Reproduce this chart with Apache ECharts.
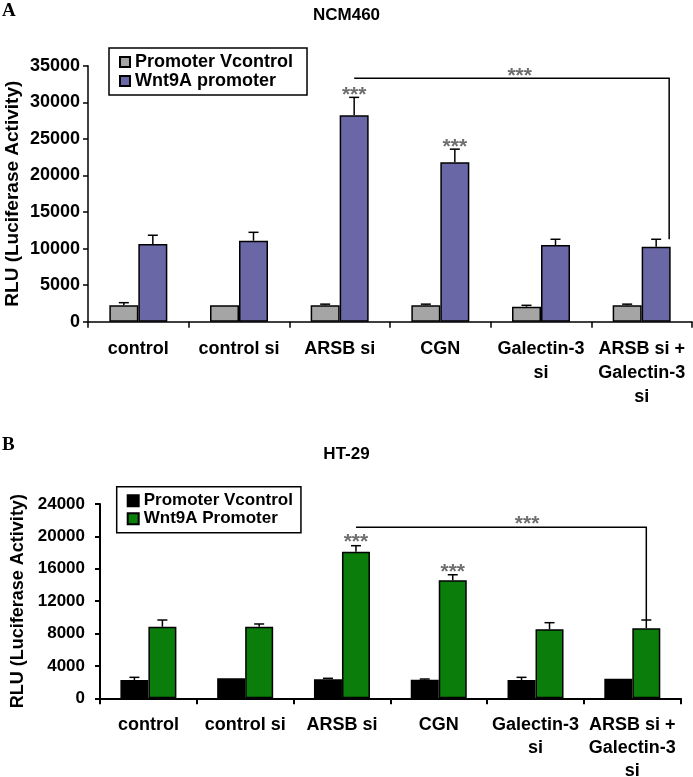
<!DOCTYPE html>
<html><head><meta charset="utf-8">
<script src="https://cdn.jsdelivr.net/npm/echarts@6/dist/echarts.min.js"></script>
<style>
html,body{margin:0;padding:0;background:#fff;width:693px;height:777px;overflow:hidden}
#a{position:absolute;left:0;top:0;width:693px;height:410px}
#b{position:absolute;left:0;top:410px;width:693px;height:367px}
</style>
</head><body><div id="a"></div><div id="b"></div>
<script>
// ---------- data ----------
const categories = ['control', 'control si', 'ARSB si', 'CGN', 'Galectin-3\nsi', 'ARSB si +\nGalectin-3\nsi'];

// Panel A : NCM460
const titleA = 'NCM460';
const seriesNamesA = ['Promoter Vcontrol', 'Wnt9A promoter'];
const vcontrolA = [2250, 2250, 2250, 2250, 2050, 2250];
const vcontrolErrA = [350, 0, 150, 150, 190, 150];
const wntA = [10620, 11070, 28220, 21790, 10490, 10250];
const wntErrA = [1200, 1150, 2450, 1800, 780, 1020];
const sigA = ['', '', '***', '***', '', ''];
const bracketA = [2, 5, 33300];      // from category, to category, level
const bracketLabelA = '***';
const yMinA = 0, yMaxA = 35000, yStepA = 5000;

// Panel B : HT-29
const titleB = 'HT-29';
const seriesNamesB = ['Promoter Vcontrol', 'Wnt9A Promoter'];
const vcontrolB = [2260, 2470, 2350, 2300, 2260, 2420];
const vcontrolErrB = [330, 0, 120, 80, 330, 0];
const wntB = [8840, 8840, 18110, 14570, 8520, 8650];
const wntErrB = [830, 340, 740, 690, 820, 1020];
const sigB = ['', '', '***', '***', '', ''];
const bracketB = [2, 5, 21120];
const bracketLabelB = '***';
const yMinB = 0, yMaxB = 24000, yStepB = 4000;

const yAxisName = 'RLU (Luciferase Activity)';

// ---------- rendering ----------
const FONT = '"Liberation Sans", Arial, sans-serif';

function errSeries(vals, errs, sig, side, L) {
  return {
    type: 'custom', z: 5, clip: false,
    data: vals.map((v, i) => [i, v, errs[i]]),
    encode: { x: 0, y: 1 },
    renderItem: function (params, api) {
      const i = api.value(0), m = api.value(1), e = api.value(2);
      const base = api.coord([i, m]);
      const x = base[0] + side * L.barW / 2;
      const top = api.coord([i, m + e])[1];
      const ch = [];
      if (e > 0) {
        ch.push({ type: 'line', shape: { x1: x, y1: base[1], x2: x, y2: top }, style: { stroke: '#000', lineWidth: 1.5 } });
        ch.push({ type: 'line', shape: { x1: x - L.cap / 2, y1: top, x2: x + L.cap / 2, y2: top }, style: { stroke: '#000', lineWidth: 1.5 } });
      }
      const s = sig[params.dataIndex];
      if (s) {
        ch.push({ type: 'text', style: { text: s, x: x, y: top - L.starGap, align: 'center', verticalAlign: 'middle',
          fill: '#6e6e6e', font: 'bold ' + L.starSize + 'px ' + FONT } });
      }
      return { type: 'group', children: ch };
    }
  };
}

function bracketSeries(br, label, wnt, wntErr, L) {
  return {
    type: 'custom', z: 5, clip: false,
    data: [[br[0], br[1], br[2], wnt[br[1]] + wntErr[br[1]]]],
    encode: { x: [0, 1], y: [2, 3] },
    renderItem: function (params, api) {
      const from = api.value(0), to = api.value(1), lvl = api.value(2), bottom = api.value(3);
      const p1 = api.coord([from, lvl]); p1[0] += L.barW / 2;
      const p2 = api.coord([to, lvl]); p2[0] += L.barW / 2 + L.bracketRightShift;
      const p3 = [p2[0], api.coord([to, bottom])[1]];
      return { type: 'group', children: [
        { type: 'polyline', shape: { points: [p1, p2, p3] }, style: { stroke: '#000', lineWidth: 1.5, fill: null } },
        { type: 'text', style: { text: label, x: (p1[0] + p2[0]) / 2 + L.bracketStarShift, y: p1[1] - L.starGap,
          align: 'center', verticalAlign: 'middle', fill: '#6e6e6e', font: 'bold ' + L.starSize + 'px ' + FONT } }
      ] };
    }
  };
}

function build(P, L) {
  const barStyle = (c) => ({ color: c, borderColor: '#000', borderWidth: 1.5 });
  return {
    animation: false,
    backgroundColor: '#fff',
    title: { text: P.title, left: 'center', top: L.titleTop,
      textStyle: { fontFamily: FONT, fontWeight: 'bold', fontSize: L.titleSize, color: '#000' } },
    graphic: [{ type: 'text', left: 2, top: L.panelTop,
      style: { text: P.panel, font: 'bold 19px "Liberation Serif", "Times New Roman", serif', fill: '#000' } }],
    legend: {
      orient: 'vertical', left: L.legLeft, top: L.legTop,
      padding: L.legPad, itemGap: L.legGap, itemWidth: L.icon, itemHeight: L.icon,
      borderColor: '#000', borderWidth: 1.5, icon: 'rect',
      textStyle: { fontFamily: FONT, fontWeight: 'bold', fontSize: L.legFont, color: '#000', lineHeight: 18, padding: [0,0,0,0] },
      data: P.names
    },
    grid: { left: L.gl, top: L.gt, width: L.gw, height: L.gh, containLabel: false, outerBoundsMode: 'none' },
    xAxis: {
      type: 'category', data: categories,
      axisLine: { lineStyle: { color: '#000', width: L.axisW } },
      axisTick: { show: true, length: 6, lineStyle: { color: '#000', width: L.axisW } },
      axisLabel: { interval: 0, color: '#000', fontFamily: FONT, fontWeight: 'bold', fontSize: L.catFont,
        lineHeight: L.catLH, margin: L.catMargin },
      splitLine: { show: false }
    },
    yAxis: {
      type: 'value', min: P.min, max: P.max, interval: P.step,
      name: yAxisName, nameLocation: 'middle', nameGap: L.nameGap, nameMoveOverlap: false,
      nameTextStyle: { fontFamily: FONT, fontWeight: 'bold', fontSize: L.nameSize, color: '#000' },
      axisLine: { show: true, lineStyle: { color: '#000', width: L.axisW } },
      axisTick: { show: true, length: 5, lineStyle: { color: '#000', width: L.axisW } },
      axisLabel: { color: '#000', fontFamily: FONT, fontWeight: 'bold', fontSize: L.tickFont, margin: L.tickMargin,
        formatter: (v) => String(v) },
      splitLine: { show: false }
    },
    series: [
      { name: P.names[0], type: 'bar', data: P.ctrl, barWidth: L.barW, barGap: '0%', itemStyle: barStyle(P.c0) },
      { name: P.names[1], type: 'bar', data: P.wnt, barWidth: L.barW, barGap: '0%', itemStyle: barStyle(P.c1) },
      errSeries(P.ctrl, P.ctrlErr, ['', '', '', '', '', ''], -1, L),
      errSeries(P.wnt, P.wntErr, P.sig, 1, L),
      bracketSeries(P.bracket, P.bracketLabel, P.wnt, P.wntErr, L)
    ]
  };
}

const chartA = echarts.init(document.getElementById('a'), null, { renderer: 'canvas' });
chartA.setOption(build(
  { title: titleA, panel: 'A', names: seriesNamesA, ctrl: vcontrolA, ctrlErr: vcontrolErrA, wnt: wntA, wntErr: wntErrA,
    sig: sigA, bracket: bracketA, bracketLabel: bracketLabelA, min: yMinA, max: yMaxA, step: yStepA,
    c0: '#a5a5a5', c1: '#6a67a7' },
  { titleTop: 2, titleSize: 17, panelTop: 2, legLeft: 109, legTop: 48, legPad: [5, 14, 5, 10], legGap: 1, icon: 10, legFont: 18,
    gl: 88, gt: 65.7, gw: 604, gh: 256, axisW: 1.5, catFont: 18, catLH: 24, catMargin: 15,
    nameGap: 66, nameSize: 19, tickFont: 18, tickMargin: 8, barW: 29, cap: 10, starSize: 21, starGap: 2,
    bracketRightShift: 13, bracketStarShift: 8 }
));

const chartB = echarts.init(document.getElementById('b'), null, { renderer: 'canvas' });
chartB.setOption(build(
  { title: titleB, panel: 'B', names: seriesNamesB, ctrl: vcontrolB, ctrlErr: vcontrolErrB, wnt: wntB, wntErr: wntErrB,
    sig: sigB, bracket: bracketB, bracketLabel: bracketLabelB, min: yMinB, max: yMaxB, step: yStepB,
    c0: '#000000', c1: '#0a7d0a' },
  { titleTop: 31, titleSize: 17, panelTop: 26, legLeft: 116.7, legTop: 76.7, legPad: [5, 8, 5, 10], legGap: 0, icon: 11, legFont: 17,
    gl: 100, gt: 94, gw: 580.7, gh: 194.3, axisW: 2, catFont: 18, catLH: 23, catMargin: 15,
    nameGap: 73, nameSize: 18, tickFont: 17, tickMargin: 15, barW: 28, cap: 10, starSize: 21, starGap: 3,
    bracketRightShift: 0, bracketStarShift: 26 }
));
</script>
</body></html>
